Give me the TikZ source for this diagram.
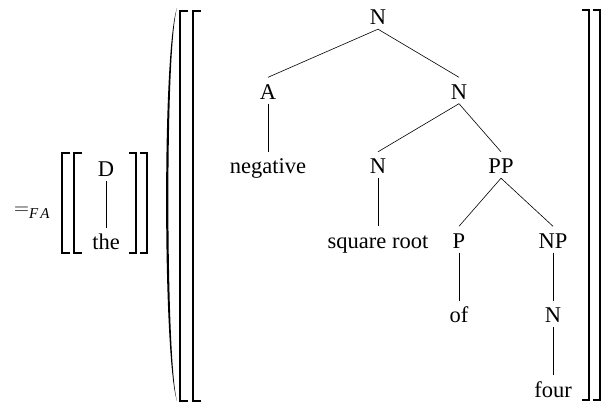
\documentclass[tikz,border=0pt]{standalone}
\usepackage{fontspec}
\setmainfont{Liberation Serif}
\usepackage{tikz}
\newcommand{\sem}[1]{\textrm{#1}}

\begin{document}
\begin{tikzpicture}[x=1pt,y=-1pt,
  cat/.style={anchor=base,inner xsep=1pt,inner ysep=4pt,text height=18pt,text depth=0pt,
    font=\fontsize{22.5}{26}\selectfont},
  edge/.style={line width=0.6pt},
  brk/.style={line width=1.6pt}]
\useasboundingbox (0,0) rectangle (603,403);
% left part: =FA [[ D - the ]]
\begin{scope}
\node[anchor=base west,inner sep=0pt,font=\fontsize{20}{24}\selectfont] (fa) at (14,215)
  {$=_{\textit{\fontsize{15}{15}\selectfont F\kern2pt A}}$};
\draw[brk] (70,153) -- (62,153) -- (62,253) -- (70,253);
\draw[brk] (82,153) -- (74,153) -- (74,253) -- (82,253);
\draw[brk] (129,153) -- (136,153) -- (136,253) -- (129,253);
\draw[brk] (140,153) -- (147,153) -- (147,253) -- (140,253);
\node[cat] (d) at (106,177) {\sem{D}};
\node[cat] (the) at (106,250) {\sem{the}};
\draw[edge] (d.south) -- (the.north);
\end{scope}
% big paren and brackets
\fill (177,8) .. controls (162,50) and (163,360) .. (177,401)
  .. controls (166,360) and (165,50) .. (177,8);
\draw[brk] (188,11) -- (180,11) -- (180,401) -- (188,401);
\draw[brk] (201,11) -- (193,11) -- (193,401) -- (201,401);
\draw[brk] (582,10) -- (589,10) -- (589,400) -- (582,400);
\draw[brk] (593,10) -- (600,10) -- (600,400) -- (593,400);
% the tree
\begin{scope}
\node[cat] (n0) at (378,25) {\sem{N}};
\node[cat] (a) at (268,99.5) {\sem{A}};
\node[cat] (n1) at (459,99.5) {\sem{N}};
\node[cat] (neg) at (268,174) {\sem{negative}};
\node[cat] (n2) at (378,174) {\sem{N}};
\node[cat] (pp) at (501,174) {\sem{PP}};
\node[cat] (sqr) at (378,248.5) {\sem{square root}};
\node[cat] (p) at (459,248.5) {\sem{P}};
\node[cat] (np) at (553,248.5) {\sem{NP}};
\node[cat] (of) at (459,323) {\sem{of}};
\node[cat] (n3) at (553,323) {\sem{N}};
\node[cat] (four) at (553,397.5) {\sem{four}};
\draw[edge] (n0.south) -- (a.north);
\draw[edge] (n0.south) -- (n1.north);
\draw[edge] (a.south) -- (neg.north);
\draw[edge] (n1.south) -- (n2.north);
\draw[edge] (n1.south) -- (pp.north);
\draw[edge] (n2.south) -- (sqr.north);
\draw[edge] (pp.south) -- (p.north);
\draw[edge] (pp.south) -- (np.north);
\draw[edge] (p.south) -- (of.north);
\draw[edge] (np.south) -- (n3.north);
\draw[edge] (n3.south) -- (four.north);
\end{scope}
\end{tikzpicture}
\end{document}
